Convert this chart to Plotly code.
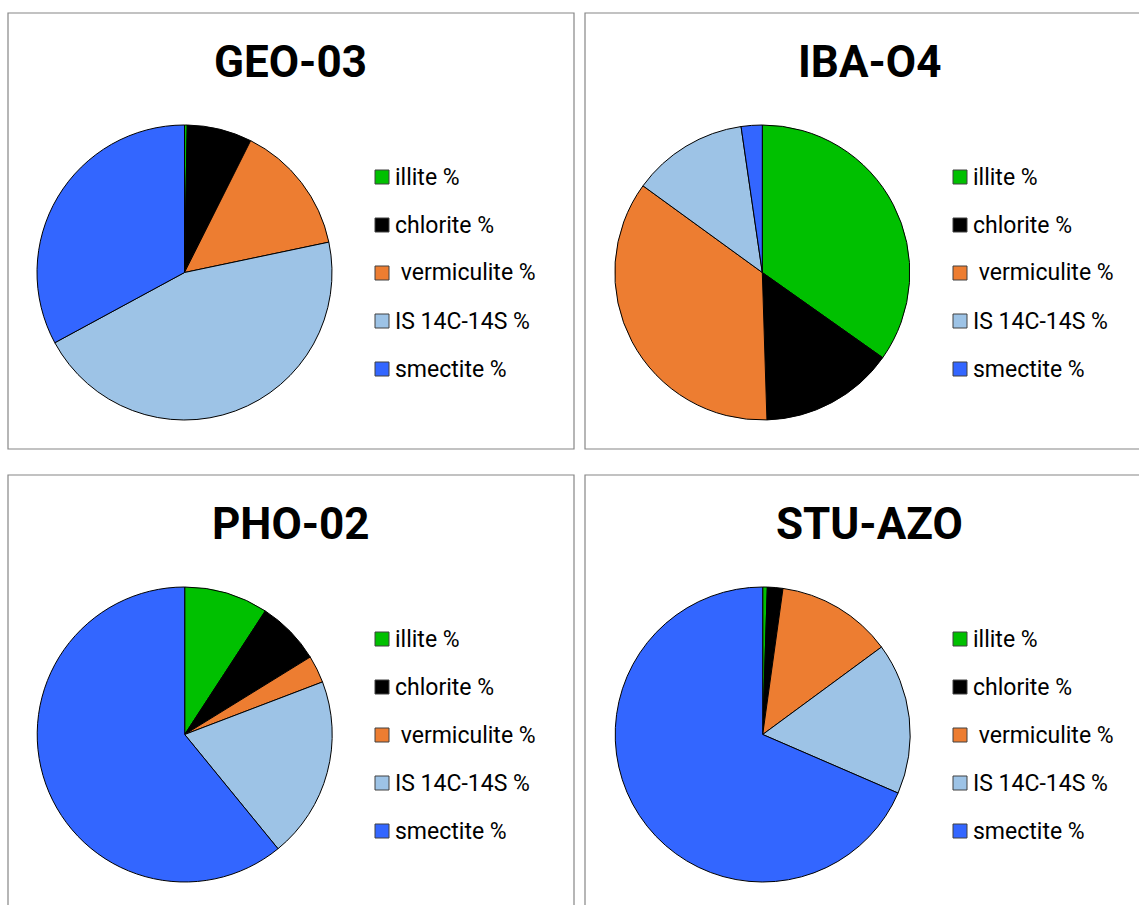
import plotly.graph_objects as go

# Clay mineral composition (%) for four samples
labels = ["illite %", "chlorite %", "\u00a0vermiculite %", "IS 14C-14S %", "smectite %"]
samples = ["GEO-03", "IBA-O4", "PHO-02", "STU-AZO"]
geo03 = [0.3, 7.1, 14.3, 45.4, 32.9]
iba04 = [34.8, 14.7, 35.5, 12.7, 2.3]
pho02 = [9.2, 7.0, 3.0, 19.9, 60.9]
stu_azo = [0.5, 1.7, 12.7, 16.6, 68.5]
colors = ["#00C000", "#000000", "#ED7D31", "#9DC3E6", "#3366FF"]

W, H = 1139, 905


def px(x):
    return x / W


def py(y):
    return 1 - y / H


# panel layout in pixels: frame box, pie centre, title centre, legend origin
panels = [
    dict(values=geo03, box=(8, 13, 574, 449), c=(184.5, 272.5), t=(290, 62), lg=(375, 177)),
    dict(values=iba04, box=(585, 13, 1160, 449), c=(762.3, 272.5), t=(869, 62), lg=(953, 177)),
    dict(values=pho02, box=(8, 475, 574, 930), c=(184.7, 734.5), t=(291, 524), lg=(375, 639)),
    dict(values=stu_azo, box=(585, 475, 1160, 930), c=(762.7, 734.5), t=(869, 524), lg=(953, 639)),
]
R = 147.5
ROW = 48
SQ = 14

fig = go.Figure()
shapes = []
annotations = []

for name, p in zip(samples, panels):
    x0, y0, x1, y1 = p["box"]
    shapes.append(dict(type="rect", xref="paper", yref="paper",
                       x0=px(x0), x1=px(x1), y0=py(y1), y1=py(y0),
                       line=dict(color="#868686", width=1.2), fillcolor="rgba(0,0,0,0)"))
    cx, cy = p["c"]
    fig.add_trace(go.Pie(
        labels=labels, values=p["values"], sort=False, direction="clockwise",
        rotation=0, textinfo="none", hoverinfo="label+value", showlegend=False,
        marker=dict(colors=colors, line=dict(color="#000000", width=1)),
        domain=dict(x=[px(cx - R), px(cx + R)], y=[py(cy + R), py(cy - R)]),
    ))
    tx, ty = p["t"]
    annotations.append(dict(text="<b>%s</b>" % name, x=px(tx), y=py(ty), xref="paper", yref="paper",
                            xanchor="center", yanchor="middle", showarrow=False,
                            font=dict(family="Roboto", size=44, color="#000000")))
    lx, ly = p["lg"]
    for i, (lab, col) in enumerate(zip(labels, colors)):
        yc = ly + i * ROW
        shapes.append(dict(type="rect", xref="paper", yref="paper",
                           x0=px(lx), x1=px(lx + SQ), y0=py(yc + SQ / 2), y1=py(yc - SQ / 2),
                           fillcolor=col, line=dict(color="#404040", width=1)))
        annotations.append(dict(text=lab, x=px(lx + SQ + 4), y=py(yc), xref="paper", yref="paper",
                                xanchor="left", yanchor="middle", showarrow=False,
                                font=dict(family="Roboto", size=23, color="#000000")))

fig.update_layout(
    width=W, height=H, margin=dict(l=0, r=0, t=0, b=0),
    paper_bgcolor="#ffffff", plot_bgcolor="#ffffff",
    shapes=shapes, annotations=annotations, showlegend=False,
)

fig.write_html("out.html")
